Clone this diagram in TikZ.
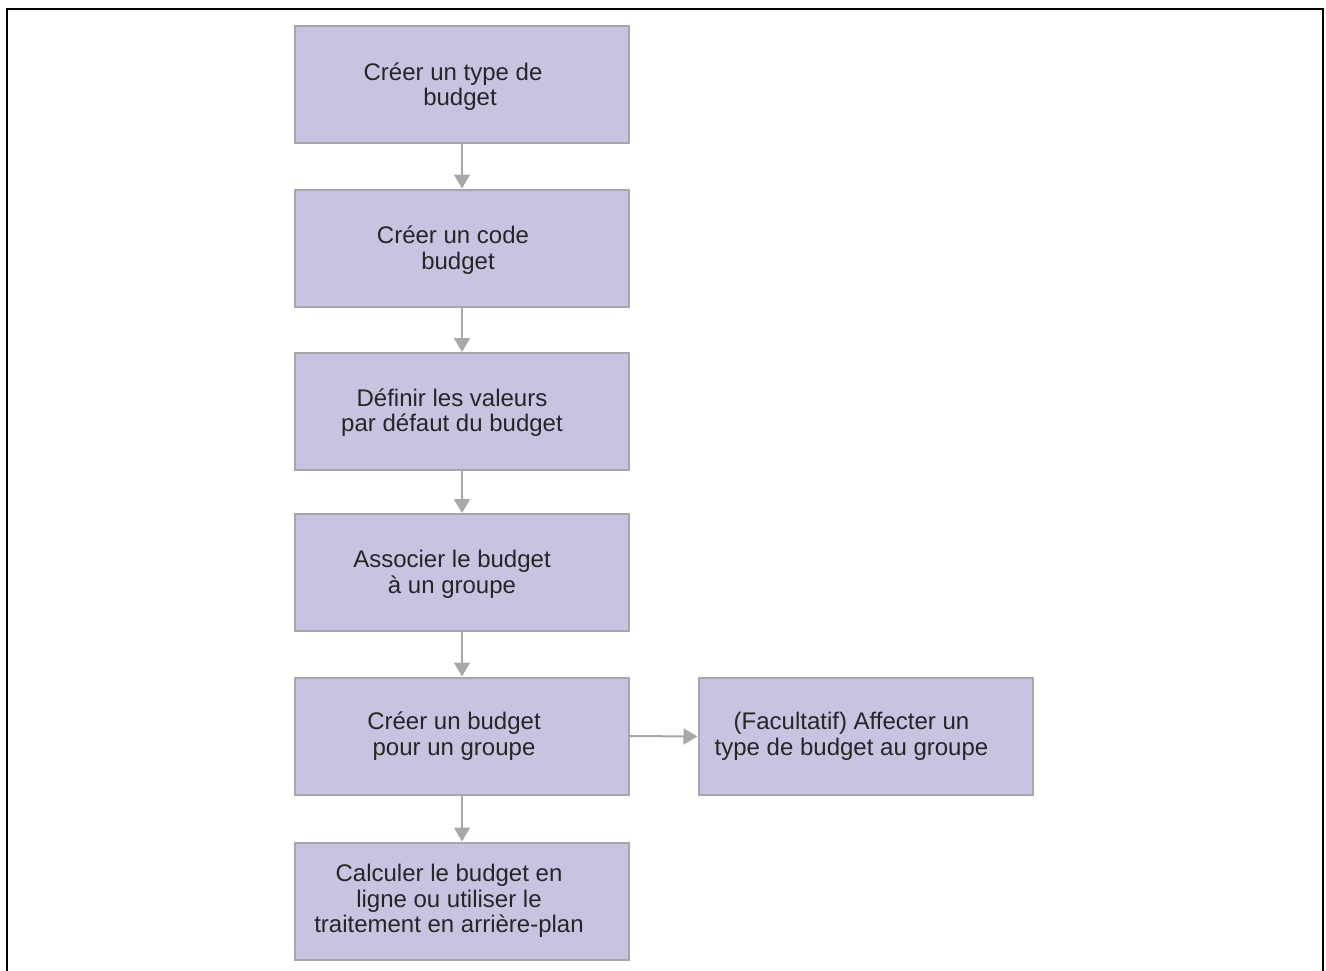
\documentclass[tikz,border=0pt]{standalone}
\usepackage{fontspec}
\setmainfont{Liberation Sans}
\usetikzlibrary{arrows.meta}
\definecolor{boxfill}{HTML}{C7C3E0}
\definecolor{boxline}{HTML}{A6A6A8}
\definecolor{arrowc}{HTML}{A8A8AC}
\begin{document}
\begin{tikzpicture}[x=1pt,y=-1pt,
  stepbox/.style={draw=boxline, fill=boxfill, line width=2pt, minimum width=334pt, minimum height=117pt, inner sep=0pt},
  txt/.style={align=center, font=\fontsize{24pt}{25.5pt}\selectfont, inner sep=0pt, text=black!85},
  conn/.style={draw=arrowc, line width=2pt, -{Triangle[width=16pt,length=14pt]}}]
\useasboundingbox (0,0) rectangle (1326,970);
\draw[line width=2.5pt] (7,972) -- (7,9) -- (1323,9) -- (1323,972);
\node[stepbox] (b1) at (462,84.5) {};
\node[stepbox] (b2) at (462,248) {};
\node[stepbox] (b3) at (462,411.5) {};
\node[stepbox] (b4) at (462,572.5) {};
\node[stepbox] (b5) at (462,736) {};
\node[stepbox] (b6) at (462,901) {};
\node[stepbox] (r5) at (865.5,736.5) {};
\node[txt] (t1) at ([xshift=-9pt,yshift=-2pt]b1.center) {Créer un type de\\\hspace*{14pt}budget};
\node[txt] (t2) at ([xshift=-9pt,yshift=-2pt]b2.center) {Créer un code\\\hspace*{10pt}budget};
\node[txt] (t3) at ([xshift=-10pt,yshift=-1pt]b3.center) {Définir les valeurs\\par défaut du budget};
\node[txt] (t4) at ([xshift=-10pt,yshift=-2pt]b4.center) {Associer le budget\\à un groupe};
\node[txt] (t5) at ([xshift=-8pt]b5.center) {Créer un budget\\pour un groupe};
\node[txt] (t6) at ([xshift=-13pt]b6.center) {Calculer le budget en\\ligne ou utiliser le\\traitement en arrière-plan};
\node[txt] (tr) at ([xshift=-14pt]r5.center) {(Facultatif) Affecter un\\type de budget au groupe};
\draw[conn] (b1) -- (b2);
\draw[conn] (b2) -- (b3);
\draw[conn] (b3) -- (b4);
\draw[conn] (b4) -- (b5);
\draw[conn] (b5) -- (b6);
\draw[conn] (b5.east) -- (r5.west);
\end{tikzpicture}
\end{document}
